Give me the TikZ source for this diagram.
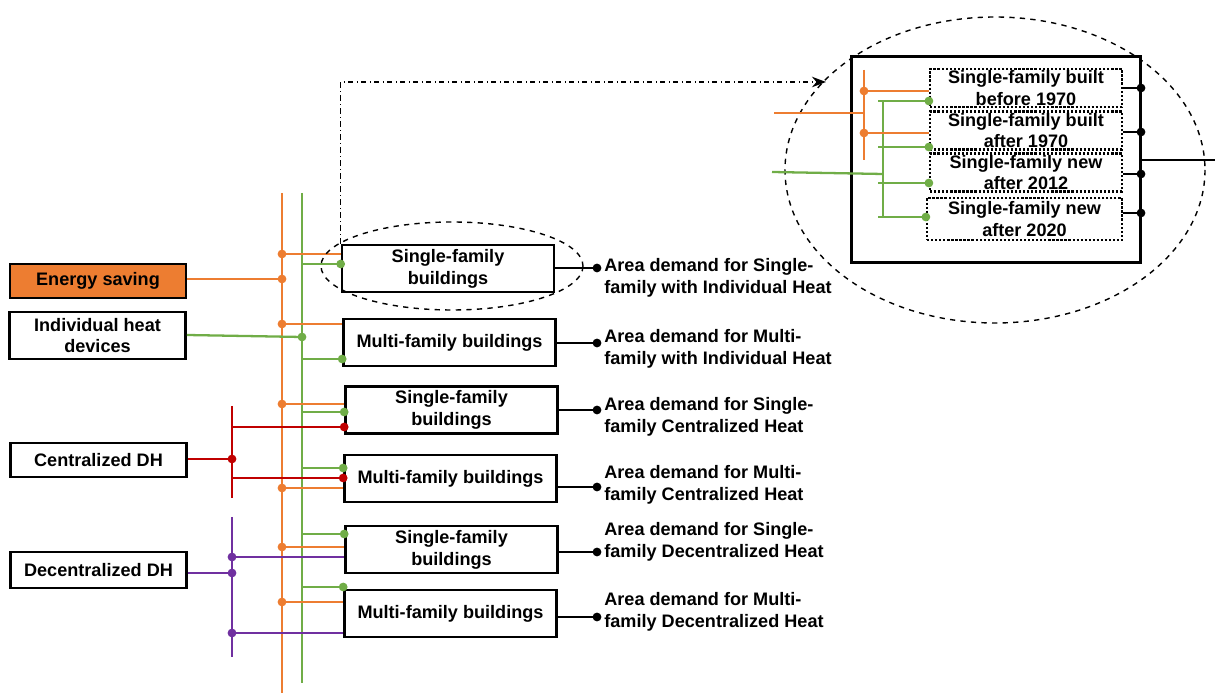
\documentclass[tikz,border=0pt]{standalone}
\usepackage{fontspec}
\setmainfont{Liberation Sans}
\usetikzlibrary{arrows.meta}
\definecolor{esorange}{HTML}{ED7D31}
\definecolor{ihgreen}{HTML}{70AD47}
\definecolor{cdhred}{HTML}{C00000}
\definecolor{ddhpurple}{HTML}{7030A0}

\begin{document}
\begin{tikzpicture}[x=0.02cm,y=-0.02cm,
  font=\fontsize{10.3}{12.4}\selectfont\bfseries,
  box/.style={draw,line width=1.5pt,align=center,inner sep=1pt},
  src/.style={box,minimum width=3.52cm,minimum height=0.68cm},
  bld/.style={box,minimum width=4.24cm,minimum height=0.94cm},
  sub/.style={draw,densely dotted,line width=1.3pt,align=center,
    minimum width=3.84cm,minimum height=0.76cm,inner sep=0pt},
  lbl/.style={anchor=west,align=left,inner sep=4pt},
  dot/.style={circle,fill=#1,inner sep=0pt,minimum size=5pt},
  feed/.style={line width=1.3pt,draw=#1},
  demand/.style={line width=1.3pt},
  zoomring/.style={dashed,line width=0.8pt}]
\useasboundingbox (0,0) rectangle (1215,695);
% inputs on the left
\node[src,fill=esorange] (es)  at (98,281)   {Energy saving};
\node[src,minimum height=0.94cm] (ihd) at (97.5,335.5) {Individual heat\\devices};
\node[src] (cdh) at (98.5,460) {Centralized DH};
\node[src,minimum height=0.72cm] (ddh) at (98.5,570) {Decentralized DH};
% building groups
\node[bld] (sf1) at (448,268.5)   {Single-family\\buildings};
\node[bld] (mf1) at (449.5,342.5) {Multi-family buildings};
\node[bld] (sf2) at (451.5,410)   {Single-family\\buildings};
\node[bld] (mf2) at (450.5,478.5) {Multi-family buildings};
\node[bld] (sf3) at (451.5,549.5) {Single-family\\buildings};
\node[bld] (mf3) at (450.5,613.5) {Multi-family buildings};
% area demand outputs
\node[lbl] (a1) at (597,278) {Area demand for Single-\\family with Individual Heat};
\node[lbl] (a2) at (597,349) {Area demand for Multi-\\family with Individual Heat};
\node[lbl] (a3) at (597,417) {Area demand for Single-\\family Centralized Heat};
\node[lbl] (a4) at (597,485) {Area demand for Multi-\\family Centralized Heat};
\node[lbl] (a5) at (597,542) {Area demand for Single-\\family Decentralized Heat};
\node[lbl] (a6) at (597,612) {Area demand for Multi-\\family Decentralized Heat};
% buses
\coordinate (obus) at (282,193); \coordinate (oend) at (282,693);
\coordinate (gbus) at (302,193); \coordinate (gend) at (302,683);
\coordinate (rbus) at (232,406); \coordinate (rend) at (232,498);
\coordinate (pbus) at (232,517); \coordinate (pend) at (232,657);
\draw[feed=esorange] (obus) -- (oend);
\draw[feed=ihgreen] (gbus) -- (gend);
\draw[feed=cdhred] (rbus) -- (rend);
\draw[feed=ddhpurple] (pbus) -- (pend);
\draw[feed=esorange] (es.east |- 0,279) -- (obus |- 0,279) node[dot=esorange] {};
\draw[feed=ihgreen] (ihd.east |- 0,335) -- (gbus |- 0,337) node[dot=ihgreen] {};
\draw[feed=cdhred] (cdh.east |- 0,459) -- (rbus |- 0,459) node[dot=cdhred] {};
\draw[feed=ddhpurple] (ddh.east |- 0,573) -- (pbus |- 0,573) node[dot=ddhpurple] {};
% branches to the building groups
\foreach \b/\y in {sf1/254,mf1/324,sf2/404,mf2/488,sf3/547,mf3/602}
  \draw[feed=esorange] (obus |- 0,\y) node[dot=esorange] {} -- (\b.west |- 0,\y);
\foreach \b/\y in {sf1/264,mf1/359,sf2/412,mf2/468,sf3/534,mf3/587}
  \draw[feed=ihgreen] (gbus |- 0,\y) -- (\b.west |- 0,\y) node[dot=ihgreen] {};
\foreach \b/\y in {sf2/427,mf2/478}
  \draw[feed=cdhred] (rbus |- 0,\y) -- (\b.west |- 0,\y) node[dot=cdhred] {};
\foreach \b/\y in {sf3/557,mf3/633}
  \draw[feed=ddhpurple] (pbus |- 0,\y) node[dot=ddhpurple] {} -- (\b.west |- 0,\y);
\foreach \b/\a/\y in {sf1/a1/268,mf1/a2/343,sf2/a3/410,mf2/a4/487,sf3/a5/552,mf3/a6/617}
  \draw[demand] (\b.east |- 0,\y) -- (\a.west |- 0,\y) node[dot=black] {};
% zoom on the first single-family group
\draw[zoomring] (452,266) ellipse [x radius=131, y radius=44];
\draw[zoomring] (995,170) ellipse [x radius=210, y radius=153];
\coordinate (tip) at (826,82);
\draw[dash dot,line width=0.8pt,-{Stealth[length=8pt,width=6pt]}]
  (sf1.north west) -- (sf1.north west |- tip) -- (tip);
\node[draw,fill=white,line width=1.7pt,minimum width=5.8cm,minimum height=4.14cm] (zbox) at (996,159.5) {};
\node[sub] (s1) at (1026,88)    {Single-family built\\before 1970};
\node[sub] (s2) at (1026,130.5) {Single-family built\\after 1970};
\node[sub] (s3) at (1026,172.5) {Single-family new\\after 2012};
\node[sub,minimum width=3.9cm,minimum height=0.84cm] (s4) at (1024.5,219) {Single-family new\\after 2020};
% feeds inside the zoom
\coordinate (zo) at (864,70); \coordinate (zoe) at (864,160);
\coordinate (zg) at (883,101); \coordinate (zge) at (883,217);
\coordinate (zoin) at (774,113); \coordinate (zgin) at (772,172);
\draw[feed=esorange] (zo) -- (zoe);
\draw[feed=ihgreen] (zg) -- (zge);
\draw[feed=esorange] (zoin) -- (zo |- zoin);
\draw[feed=ihgreen] (zgin) -- (zg |- 0,174);
\foreach \s/\y in {s1/91,s2/133}
  \draw[feed=esorange] (zo |- 0,\y) node[dot=esorange] {} -- (\s.west |- 0,\y);
\foreach \s/\y in {s1/101,s2/147,s3/183,s4/217}
  \draw[feed=ihgreen] (878,\y) -- (\s.west |- 0,\y) node[dot=ihgreen] {};
\coordinate (zk) at (1141,88); \coordinate (zke) at (1141,213);
\coordinate (zout) at (1215,160);
\draw[demand] (zk) -- (zke);
\draw[demand] (zk |- zout) -- (zout);
\foreach \s/\y in {s1/88,s2/132,s3/174,s4/213}
  \draw[demand] (\s.east |- 0,\y) -- (zk |- 0,\y) node[dot=black] {};
\end{tikzpicture}
\end{document}
